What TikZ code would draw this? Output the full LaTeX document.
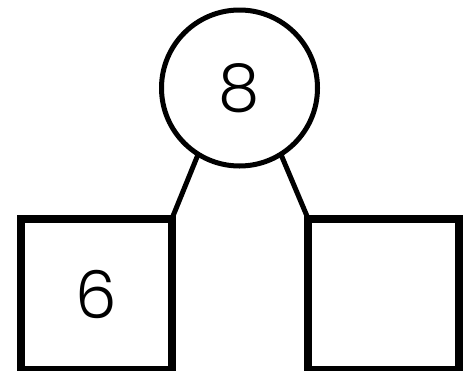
\documentclass[tikz,border=0pt]{standalone}
\usepackage{fontspec}
\setmainfont{Poppins}[UprightFont=* Light]
\usetikzlibrary{positioning}

\begin{document}
\begin{tikzpicture}[
    x=1pt, y=-1pt,
    node distance=136pt,
    whole/.style={circle, draw, line width=5pt, minimum size=156pt, inner sep=0pt, outer sep=0pt, font=\fontsize{66}{66}\selectfont},
    part/.style={rectangle, draw, line width=8pt, minimum size=151pt, inner sep=0pt, outer sep=0pt, font=\fontsize{66}{66}\selectfont},
    link/.style={line width=5pt}
]
\useasboundingbox (0,0) rectangle (470,370);

\node[whole] (total) at (239.5,88) {8};
\node[part] (partA) at (96.5,294) {6};
\node[part, right=of partA] (partB) {};

\draw[link] (total.238) -- (partA.north east);
\draw[link] (total.302) -- (partB.north west);

\end{tikzpicture}
\end{document}
